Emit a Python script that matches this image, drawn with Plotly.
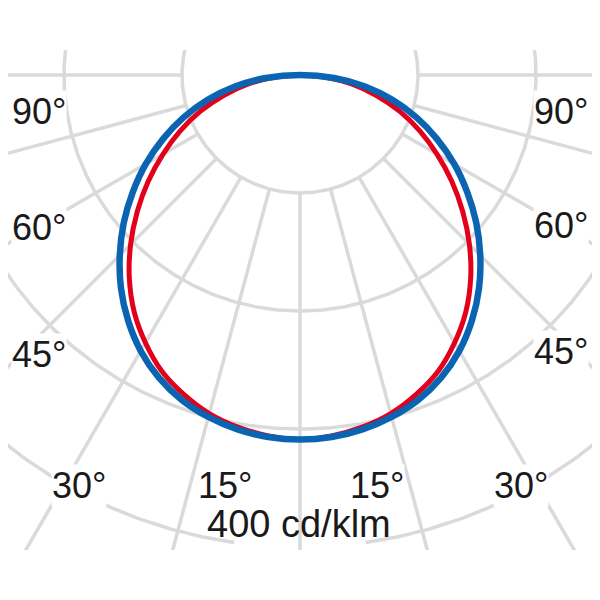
import numpy as np
import plotly.graph_objects as go

# light distribution curve, cd/klm, gamma angle measured from nadir
gamma = [0, 5, 10, 15, 20, 25, 30, 35, 40, 45, 50, 55, 60, 65, 70, 75, 80, 85, 90]
c0_c180 = [309, 308, 305, 300, 293, 283, 270, 254, 236, 216, 195, 173, 151, 128, 105, 81, 56, 29, 0]
c90_c270 = [309, 307, 303, 297, 288, 277, 262, 245, 225, 203, 180, 157, 134, 112, 90, 67, 45, 22, 0]

rings = [100, 200, 300, 400]
spokes = [-90, -75, -60, -45, -30, -15, 0, 15, 30, 45, 60, 75, 90]
unit_label = '400 cd/klm'

GRID = '#dadada'
BLUE = '#0b64b2'
RED = '#e2001a'
FONT = dict(family='Liberation Sans, Arial, sans-serif', size=36, color='#1a1a1a')
PX = 1.18   # pixels per cd/klm
OFF = 8     # page margin of the html body


def mirror(vals):
    # left half mirrors the right half
    ang = [-g for g in gamma[::-1]] + gamma[1:]
    v = vals[::-1] + vals[1:]
    t = np.radians(ang)
    return np.array(v) * np.sin(t), -np.array(v) * np.cos(t)


fig = go.Figure()

t = np.radians(np.arange(-180, 180.5, 0.5))
for r in rings:
    x = r * np.sin(t)
    y = -r * np.cos(t)
    if r == rings[-1]:
        # gap for the unit label
        gap = np.abs(np.degrees(t)) < 7.6
        x = np.where(gap, np.nan, x)
        y = np.where(gap, np.nan, y)
    fig.add_trace(go.Scatter(x=x, y=y, mode='lines', line=dict(color=GRID, width=3.5),
                             hoverinfo='skip', showlegend=False))

for a in spokes:
    s = np.radians(a)
    fig.add_trace(go.Scatter(x=[rings[0] * np.sin(s), 1000 * np.sin(s)],
                             y=[-rings[0] * np.cos(s), -1000 * np.cos(s)],
                             mode='lines', line=dict(color=GRID, width=3.5),
                             hoverinfo='skip', showlegend=False))

for vals, col, w, name in [(c90_c270, RED, 5, 'C90-C270'), (c0_c180, BLUE, 6.5, 'C0-C180')]:
    x, y = mirror(vals)
    fig.add_trace(go.Scatter(x=x, y=y, mode='lines', name=name,
                             line=dict(color=col, width=w, shape='spline', smoothing=1.0),
                             showlegend=False))


def paper(px, py):
    return (px - OFF) / 600, (550 - py) / 500


# angle labels, pixel positions in the window
labels = [('90°', 39, 111), ('60°', 39, 227), ('45°', 39, 354), ('30°', 79, 485), ('15°', 225, 485),
          ('15°', 377, 485), ('30°', 521, 485), ('45°', 561, 351), ('60°', 561, 225), ('90°', 561, 111)]
for txt, px, py in labels:
    ax, ay = paper(px, py)
    fig.add_annotation(x=ax, y=ay, xref='paper', yref='paper', text=txt,
                       showarrow=False, font=FONT, bgcolor='white', borderpad=0,
                       xanchor='center', yanchor='middle')
ax, ay = paper(299, 524)
fig.add_annotation(x=ax, y=ay, xref='paper', yref='paper', text=unit_label,
                   showarrow=False, font=dict(FONT, size=38), xanchor='center', yanchor='middle')

fig.update_layout(
    width=600, height=600,
    margin=dict(l=0, r=0, t=50 - OFF, b=50 + OFF),
    paper_bgcolor='white', plot_bgcolor='white',
    xaxis=dict(range=[-(300 - OFF) / PX, (300 + OFF) / PX], visible=False, fixedrange=True),
    yaxis=dict(range=[-475 / PX, 25 / PX], visible=False, fixedrange=True),
    showlegend=False,
)

fig.write_html("out.html")
